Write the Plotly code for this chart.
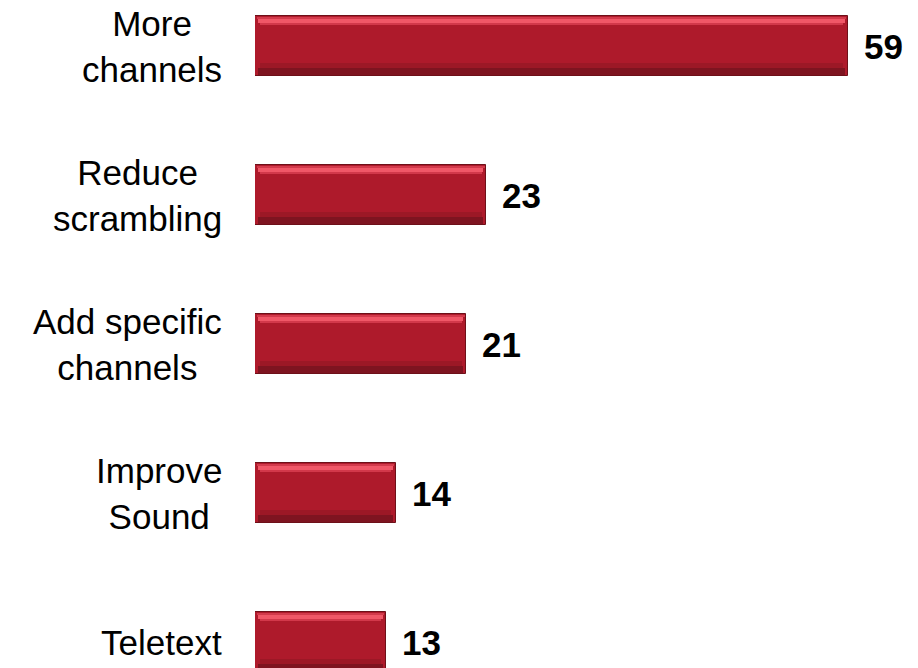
import plotly.graph_objects as go

# Survey responses: what viewers would like improved
categories = ["More<br>channels", "Reduce<br>scrambling", "Add specific<br>channels",
              "Improve<br>Sound", "Teletext"]
values = [59, 23, 21, 14, 13]

positions = list(range(len(categories)))
BAR_W = 0.403
FONT = "Liberation Sans, Arial, sans-serif"

fig = go.Figure()

# Base bar with dark outline
fig.add_trace(go.Bar(
    x=values, y=positions, orientation="h", width=BAR_W,
    marker=dict(color="#AE1A2B", line=dict(color="#6E1019", width=1)),
    hoverinfo="skip", showlegend=False,
))

# Horizontal bevel strips: (start fraction from top edge, thickness fraction,
# inset at the ends in axis units, colour)
strips = [
    (0.02, 0.03, 0.15, "#D23A4B"),
    (0.05, 0.06, 0.30, "#F05767"),
    (0.11, 0.04, 0.45, "#D2384A"),
    (0.78, 0.08, 0.45, "#9C1826"),
    (0.86, 0.12, 0.30, "#7E1420"),
]
for start, thick, inset, color in strips:
    fig.add_trace(go.Bar(
        x=[v - 2 * inset for v in values], base=[inset] * len(values),
        y=positions, orientation="h",
        width=BAR_W * thick, offset=-BAR_W / 2 + BAR_W * start,
        marker=dict(color=color, line=dict(width=0)),
        hoverinfo="skip", showlegend=False,
    ))

annotations = []
for i, (cat, val) in enumerate(zip(categories, values)):
    annotations.append(dict(
        text=cat, x=0, xref="paper", y=i, yref="y",
        xanchor="right", yanchor="middle", xshift=-31, align="center",
        showarrow=False, font=dict(family=FONT, size=35, color="#000000"),
    ))
    annotations.append(dict(
        text=f"<b>{val}</b>", x=val, xref="x", y=i, yref="y",
        xanchor="left", yanchor="middle", xshift=14,
        showarrow=False, font=dict(family=FONT, size=35, color="#000000"),
    ))

fig.update_layout(
    width=918, height=668,
    margin=dict(l=255, r=0, t=0, b=0),
    paper_bgcolor="white", plot_bgcolor="white",
    barmode="overlay", bargap=0,
    xaxis=dict(range=[0, 65.97], visible=False, fixedrange=True),
    yaxis=dict(range=[4.174, -0.309], visible=False, fixedrange=True),
    annotations=annotations,
)

fig.write_html("out.html")
